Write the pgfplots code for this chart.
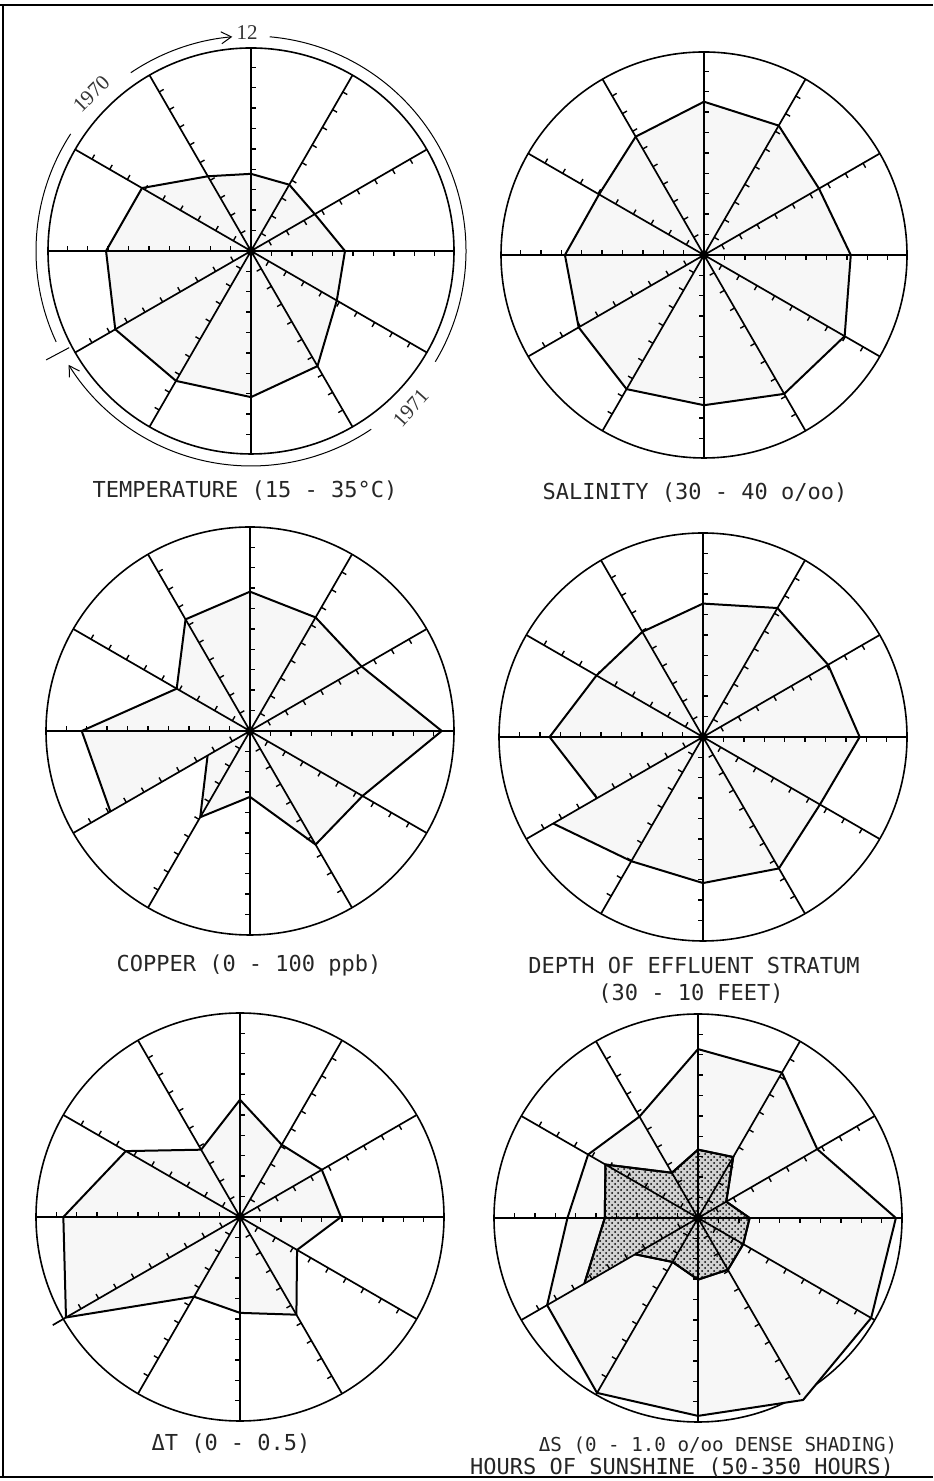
\documentclass[border=0pt]{standalone}
\usepackage{fontspec}
\usepackage{pgfplots}
\pgfplotsset{compat=1.18}
\usepgfplotslibrary{polar}
\usetikzlibrary{decorations.markings,patterns,arrows.meta}
\newfontfamily\mono{DejaVu Sans Mono}
\newfontfamily\serifdigits{Liberation Serif}

\pgfplotsset{
  star/.style={
    anchor=center, scale only axis, width=#1, height=#1,
    xmin=0, xmax=360, ymin=0, ymax=1,
    xtick=\empty, ytick=\empty,
    axis line style={line width=0.8pt},
    clip=false,
  },
}
\tikzset{
  spoke/.style={line width=0.85pt, postaction=decorate,
    decoration={markings, mark=between positions 10.2pt and 97pt step 10.2pt
      with {\draw[line width=0.7pt] (0pt,0pt) -- (0pt,-2.6pt);}}},
  poly/.style={black, line width=1pt, mark=none, fill=black!3},
}
\newcommand{\spokes}{%
  \pgfplotsinvokeforeach{0,30,60,90,120,150,180,210,240,270,300,330}{%
    \draw[spoke] (axis cs:0,0) -- (axis cs:##1,1);}%
  \fill (axis cs:0,0) circle[radius=2.4pt];}

\begin{document}
\begin{tikzpicture}
\useasboundingbox (0,0) rectangle (466.5pt,740.5pt);
% frame
\draw[line width=0.7pt] (0pt,738pt) -- (466.5pt,738pt);
\draw[line width=0.7pt] (1.5pt,738pt) -- (1.5pt,2pt);
\draw[line width=0.7pt] (0pt,2pt) -- (466.5pt,2pt);

% ---------- 1 TEMPERATURE ----------
\begin{polaraxis}[star=203pt, at={(125.5pt,615pt)}]
\addplot[poly] coordinates {(210,0.772) (180,0.714) (150,0.62) (120,0.425) (90,0.38) (60,0.377) (30,0.363) (0,0.463) (330,0.488) (300,0.655) (270,0.72) (240,0.739) (210,0.772)};
\spokes
\end{polaraxis}
% year ring
\begin{scope}[shift={(125.5pt,615pt)}, line width=0.5pt]
\draw (85:107.5pt) arc[start angle=85, end angle=-31, radius=107.5pt];
\draw[-{Straight Barb[length=5pt,width=6pt]}] (-56:107.5pt) arc[start angle=-56, end angle=-148, radius=107.5pt];
\draw (205:107.5pt) arc[start angle=205, end angle=147, radius=107.5pt];
\draw[-{Straight Barb[length=5pt,width=6pt]}] (124:107.5pt) arc[start angle=124, end angle=95, radius=107.5pt];
\draw (208:103pt) -- (208:116pt);
\node[font=\serifdigits\fontsize{10.5}{12}\selectfont, text=black!80] at (91:109pt) {12};
\node[font=\serifdigits\fontsize{10.5}{12}\selectfont, text=black!80, rotate=45, inner sep=0pt] at (135.5:112pt) {1970};
\node[font=\serifdigits\fontsize{10.5}{12}\selectfont, text=black!80, rotate=48, inner sep=0pt] at (-44.5:112pt) {1971};
\end{scope}

% ---------- 2 SALINITY ----------
\begin{polaraxis}[star=203pt, at={(352pt,613pt)}]
\addplot[poly] coordinates {(210,0.713) (180,0.685) (150,0.597) (120,0.673) (90,0.755) (60,0.736) (30,0.654) (0,0.723) (330,0.8) (300,0.79) (270,0.74) (240,0.763) (210,0.713)};
\spokes
\end{polaraxis}

% ---------- 3 COPPER ----------
\begin{polaraxis}[star=204pt, at={(125pt,375pt)}]
\addplot[poly] coordinates {(210,0.79) (180,0.825) (150,0.415) (120,0.632) (90,0.683) (60,0.643) (30,0.632) (0,0.94) (330,0.637) (300,0.643) (270,0.323) (240,0.488) (210,0.24)};
\spokes
\end{polaraxis}

% ---------- 4 DEPTH ----------
\begin{polaraxis}[star=204pt, at={(351.5pt,372pt)}]
\addplot[poly] coordinates {(210,0.6) (180,0.752) (150,0.603) (120,0.595) (90,0.654) (60,0.73) (30,0.708) (0,0.768) (330,0.662) (300,0.744) (270,0.716) (240,0.703) (210,0.848)};
\spokes
\end{polaraxis}

% ---------- 5 DELTA T ----------
\begin{polaraxis}[star=204pt, at={(120pt,132pt)}]
\addplot[poly] coordinates {(210,0.985) (180,0.866) (150,0.646) (120,0.381) (90,0.575) (60,0.409) (30,0.463) (0,0.495) (330,0.323) (300,0.553) (270,0.47) (240,0.451) (210,0.985)};
\spokes
\draw[line width=0.85pt] (axis cs:210,1) -- (axis cs:210,1.06);
\end{polaraxis}

% ---------- 6 DELTA S / SUNSHINE ----------
\begin{polaraxis}[star=204pt, at={(349pt,131.5pt)}]
\addplot[poly] coordinates {(210,0.854) (180,0.64) (150,0.622) (120,0.574) (90,0.828) (60,0.823) (30,0.675) (0,0.97) (330,0.98) (300,1.03) (270,0.97) (240,0.99) (210,0.854)};
\addplot[black, line width=1pt, mark=none, fill=black!18, postaction={pattern=crosshatch dots}] coordinates {(210,0.643) (180,0.457) (150,0.524) (120,0.256) (90,0.335) (60,0.345) (30,0.16) (0,0.253) (330,0.256) (300,0.293) (270,0.302) (240,0.249) (210,0.356)};
\spokes
\end{polaraxis}

% ---------- labels ----------
\begin{scope}[every node/.style={anchor=base, text=black!85, font=\mono\fontsize{11}{13}\selectfont}]
\node at (122.5pt,491.5pt) {TEMPERATURE (15 - 35°C)};
\node at (347.5pt,490.8pt) {SALINITY (30 - 40 o/oo)};
\node at (124.5pt,254.7pt) {COPPER (0 - 100 ppb)};
\node at (347pt,253.9pt) {DEPTH OF EFFLUENT STRATUM};
\node at (345.5pt,240pt) {(30 - 10 FEET)};
\node at (115.5pt,15.5pt) {ΔT (0 - 0.5)};
\node[font=\mono\fontsize{9.6}{11}\selectfont] at (359pt,14.7pt) {ΔS (0 - 1.0 o/oo DENSE SHADING)};
\node at (341pt,3.2pt) {HOURS OF SUNSHINE (50-350 HOURS)};
\end{scope}
\end{tikzpicture}
\end{document}
